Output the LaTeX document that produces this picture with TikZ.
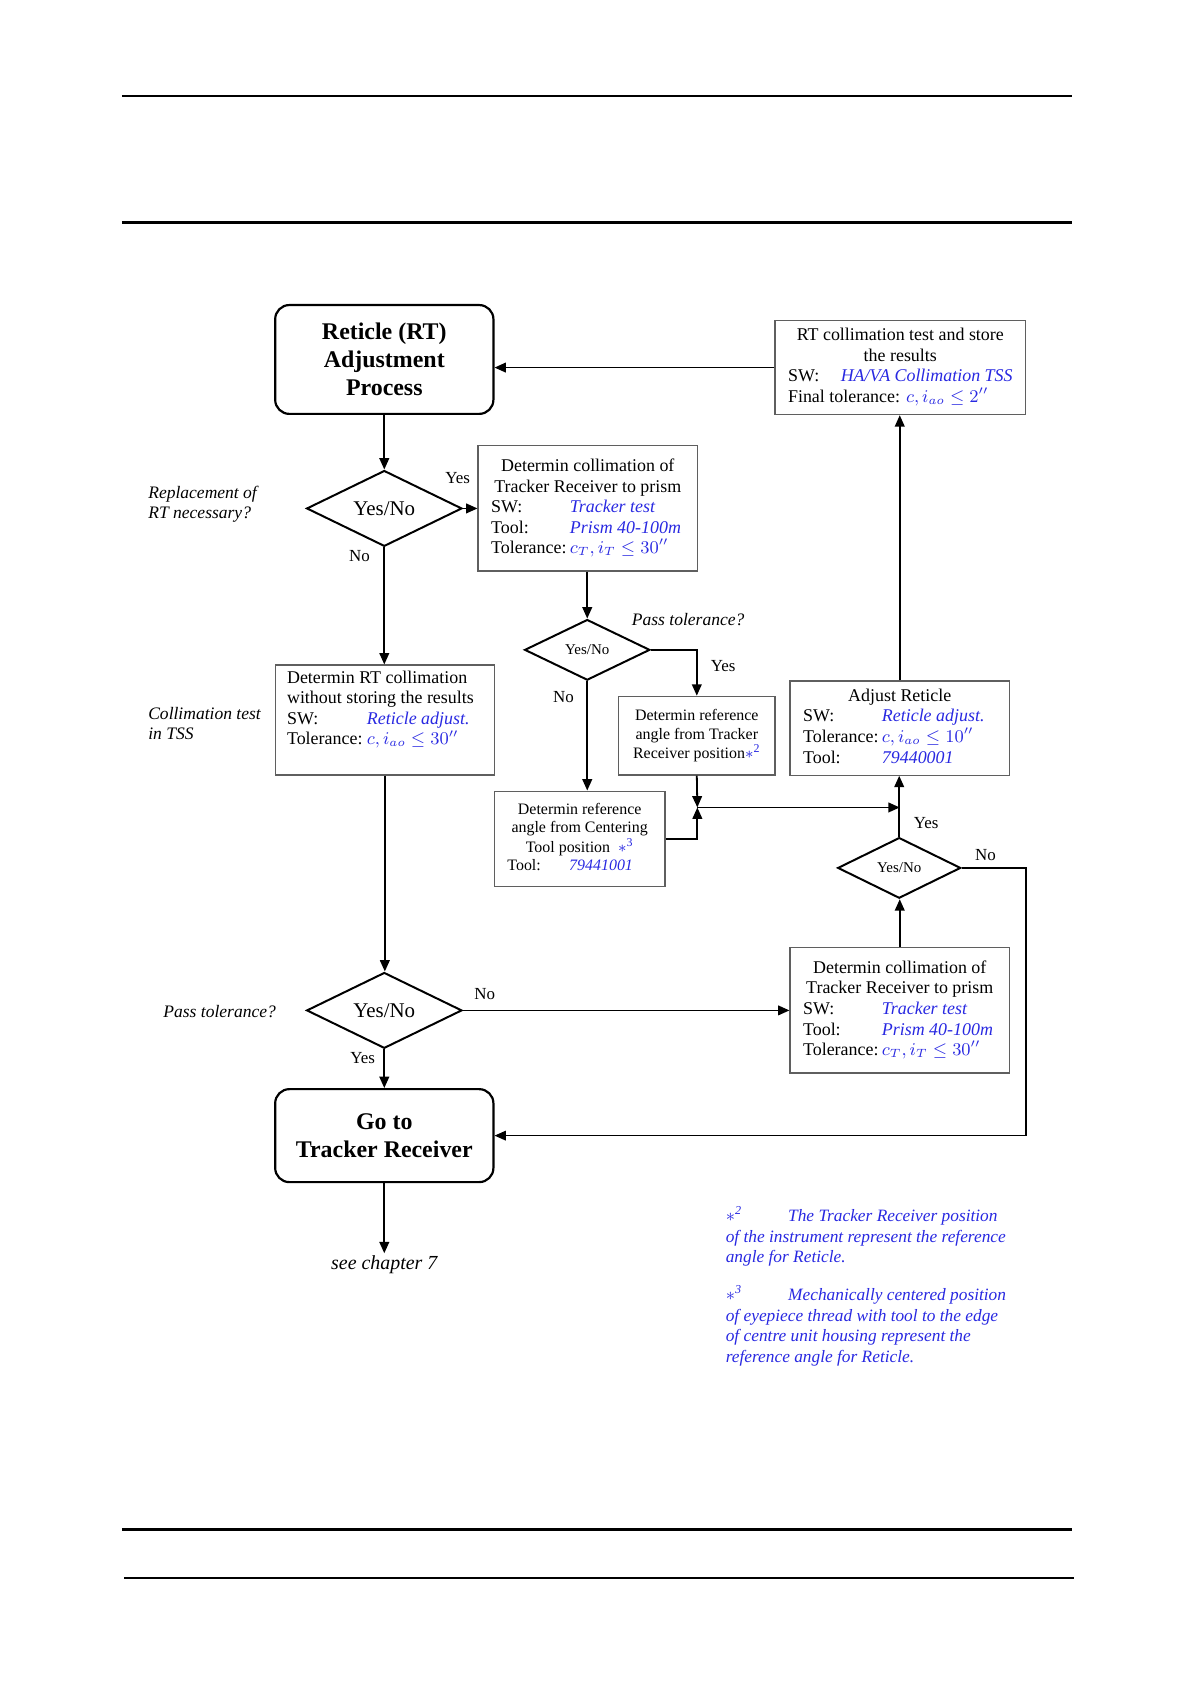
\documentclass[tikz,border=0pt]{standalone}
\usepackage{fontspec}
\setmainfont{Liberation Serif}
\usepackage{xcolor}
\usetikzlibrary{positioning,shapes.geometric,arrows.meta}

\definecolor{valblue}{RGB}{40,40,225}
\definecolor{boxgray}{RGB}{95,95,95}
\newcommand{\val}[1]{\leavevmode{\color{valblue}\itshape #1}}
\newcommand{\refmark}[1]{{\color{valblue}$\ast$\textsuperscript{#1}}}

\tikzset{
  startbox/.style={draw, line width=1.1pt, rounded corners=0.25cm, align=center,
    font=\fontsize{12}{14}\selectfont\bfseries, minimum width=3.85cm},
  databox/.style={draw=boxgray, line width=0.6pt, inner xsep=0.23cm, inner ysep=0pt,
    font=\fontsize{9}{10.3}\selectfont},
  decision/.style={draw, diamond, line width=1pt, inner sep=0pt,
    font=\fontsize{10.5}{12}\selectfont},
  smalldecision/.style={decision, font=\fontsize{7.5}{9}\selectfont},
  flow/.style={line width=0.9pt, -{Triangle[length=2mm,width=1.7mm]}},
  answer/.style={font=\fontsize{8.5}{10}\selectfont},
  sidenote/.style={anchor=west, align=left, inner sep=0pt, font=\fontsize{8.8}{10.3}\selectfont\itshape},
}

\begin{document}
\begin{tikzpicture}[x=0.01904cm, y=-0.01904cm]
  \useasboundingbox (0,0) rectangle (1103,1560);
  % page rules
  \draw[line width=0.75pt] (113,89) -- (993,89);
  \draw[line width=1.5pt] (113,206) -- (993,206);
  \draw[line width=1.5pt] (113,1417) -- (993,1417);
  \draw[line width=0.75pt] (115,1462) -- (995,1462);
  % start
  \node[startbox, minimum height=1.92cm] (start) at (356,333) {Reticle (RT)\\Adjustment\\Process};
  % final collimation test
  \node[databox, minimum height=1.66cm] (rtcoll) at (834,340.5) {\begin{tabular}{@{}p{0.93cm}@{}p{3.03cm}@{}}
    \multicolumn{2}{@{}c@{}}{RT collimation test and store}\\
    \multicolumn{2}{@{}c@{}}{the results}\\
    SW: & \val{HA/VA Collimation TSS}\\
    \multicolumn{2}{@{}l@{}}{Final tolerance: \val{$c,i_{ao}\le 2''$}}
  \end{tabular}};
  % replacement decision
  \node[decision, minimum width=2.74cm, minimum height=1.10cm] (done) at (356,471) {Yes/No};
  \node[sidenote] (qone) at (137,467) {Replacement of\\RT necessary?};
  \node[answer] (yone) at (424,443) {Yes};
  \node[answer] (none) at (333,515) {No};
  % tracker receiver collimation 1
  \node[databox, minimum height=2.21cm] (trone) at (544.5,471) {\begin{tabular}{@{}p{1.39cm}@{}p{2.02cm}@{}}
    \multicolumn{2}{@{}c@{}}{Determin collimation of}\\
    \multicolumn{2}{@{}c@{}}{Tracker Receiver to prism}\\
    SW: & \val{Tracker test}\\
    Tool: & \val{Prism 40-100m}\\
    Tolerance: & \val{$c_T,i_T\le 30''$}
  \end{tabular}};
  % pass tolerance 1
  \node[smalldecision, minimum width=2.21cm, minimum height=1.07cm] (dtwo) at (544,602) {Yes/No};
  \node[sidenote] (qtwo) at (585,574) {Pass tolerance?};
  \node[answer] (ytwo) at (670,617) {Yes};
  \node[answer] (ntwo) at (522,646) {No};
  % reference angles
  \node[databox, font=\fontsize{8}{9.4}\selectfont, align=center, inner xsep=0pt,
    minimum width=2.76cm, minimum height=1.39cm] (reftr) at (645.5,681.5)
    {Determin reference\\angle from Tracker\\Receiver position\refmark{2}};
  \node[databox, font=\fontsize{8}{9.4}\selectfont, minimum height=1.68cm] (refct) at (537,777) {\begin{tabular}{@{}p{1.09cm}@{}p{1.46cm}@{}}
    \multicolumn{2}{@{}c@{}}{Determin reference}\\
    \multicolumn{2}{@{}c@{}}{angle from Centering}\\
    \multicolumn{2}{@{}c@{}}{Tool position\enspace\refmark{3}}\\
    Tool: & \val{79441001}
  \end{tabular}};
  \coordinate (jn) at (646,748);
  % adjust reticle
  \node[databox, minimum height=1.66cm] (adjret) at (833.5,674.5) {\begin{tabular}{@{}p{1.39cm}@{}p{2.02cm}@{}}
    \multicolumn{2}{@{}c@{}}{Adjust Reticle}\\
    SW: & \val{Reticle adjust.}\\
    Tolerance: & \val{$c,i_{ao}\le 10''$}\\
    Tool: & \val{79440001}
  \end{tabular}};
  % pass tolerance 3
  \node[smalldecision, minimum width=2.17cm, minimum height=1.07cm] (dthree) at (833,804) {Yes/No};
  \node[answer] (ythree) at (858,762) {Yes};
  \node[answer] (nthree) at (913,792) {No};
  % RT collimation without storing
  \node[databox, inner xsep=0.21cm, minimum height=1.94cm] (rtdet) at (356.5,667) {\begin{tabular}{@{}p{1.41cm}@{}p{2.04cm}@{}}
    \multicolumn{2}{@{}l@{}}{Determin RT collimation}\\
    \multicolumn{2}{@{}l@{}}{without storing the results}\\
    SW: & \val{Reticle adjust.}\\
    Tolerance: & \val{$c,i_{ao}\le 30''$}\\
    &
  \end{tabular}};
  \node[sidenote] (qcoll) at (137,670) {Collimation test\\in TSS};
  % pass tolerance 2
  \node[decision, minimum width=2.74cm, minimum height=1.10cm] (dfour) at (356,936) {Yes/No};
  \node[sidenote] (qfour) at (151,937) {Pass tolerance?};
  \node[answer] (nfour) at (449,921) {No};
  \node[answer] (yfour) at (336,980) {Yes};
  % tracker receiver collimation 2
  \node[databox, minimum height=2.21cm] (trtwo) at (833.5,936) {\begin{tabular}{@{}p{1.39cm}@{}p{2.02cm}@{}}
    \multicolumn{2}{@{}c@{}}{Determin collimation of}\\
    \multicolumn{2}{@{}c@{}}{Tracker Receiver to prism}\\
    SW: & \val{Tracker test}\\
    Tool: & \val{Prism 40-100m}\\
    Tolerance: & \val{$c_T,i_T\le 30''$}
  \end{tabular}};
  % go to
  \node[startbox, minimum height=1.64cm] (goto) at (356,1052) {Go to\\Tracker Receiver};
  \node[anchor=north, inner sep=1pt, font=\fontsize{10}{12}\selectfont\itshape] (seech) at (356,1161) {see chapter 7};
  % footnotes
  \node[anchor=north west, inner sep=0pt, align=left, text=valblue,
    font=\fontsize{8.7}{10.3}\selectfont\itshape] (fntwo) at (672,1117)
    {\makebox[1.1cm][l]{\refmark{2}}The Tracker Receiver position\\of the instrument represent the reference\\angle for Reticle.};
  \node[anchor=north west, inner sep=0pt, align=left, text=valblue,
    font=\fontsize{8.7}{10.3}\selectfont\itshape] (fnthree) at (672,1190)
    {\makebox[1.1cm][l]{\refmark{3}}Mechanically centered position\\of eyepiece thread with tool to the edge\\of centre unit housing represent the\\reference angle for Reticle.};
  % connectors
  \draw[flow] (rtcoll.west) -- (rtcoll.west -| start.east);
  \draw[flow] (start.south) -- (done.north);
  \draw[flow] (done.east) -- (trone.west);
  \draw[flow] (done.south) -- (done.south |- rtdet.north);
  \draw[flow] (trone.south -| dtwo.north) -- (dtwo.north);
  \draw[flow] (dtwo.east) -| (reftr.north);
  \draw[flow] (dtwo.south) -- (dtwo.south |- refct.north);
  \draw[flow] (reftr.south) -- (jn);
  \draw[flow] (refct.east) -| (jn);
  \draw[flow] (jn) -- (jn -| adjret.south);
  \draw[flow] (dthree.north) -- (dthree.north |- adjret.south);
  \draw[flow] (adjret.north) -- (adjret.north |- rtcoll.south);
  \draw[flow] (trtwo.north) -- (trtwo.north |- dthree.south);
  \draw[flow, line width=0.7pt] (dthree.east) -- (dthree.east -| rtcoll.east) |- (goto.east);
  \draw[flow] (rtdet.south) -- (rtdet.south |- dfour.north);
  \draw[flow] (dfour.east) -- (trtwo.west);
  \draw[flow] (dfour.south) -- (goto.north);
  \draw[flow] (goto.south) -- (seech.north);
\end{tikzpicture}
\end{document}
